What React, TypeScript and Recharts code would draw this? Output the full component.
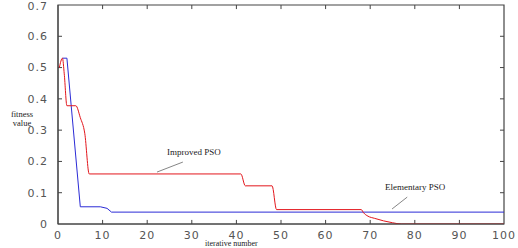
import { LineChart, Line, XAxis, YAxis, ReferenceLine, ReferenceArea } from "recharts"

// iteration / fitness pairs
const improvedIter = [0.3, 1, 1.4, 2, 4, 5, 6, 7, 41, 42, 48, 49, 68, 68.5, 69.5, 71, 73, 75, 77, 100]
const improvedFit = [0.5, 0.53, 0.48, 0.378, 0.378, 0.34, 0.29, 0.16, 0.16, 0.122, 0.122, 0.046, 0.046, 0.036, 0.025, 0.018, 0.01, 0.004, 0, 0]

const elementaryIter = [1, 2, 5, 9.5, 11, 12, 100]
const elementaryFit = [0.53, 0.53, 0.055, 0.055, 0.05, 0.038, 0.038]

const xTicks = [0, 10, 20, 30, 40, 50, 60, 70, 80, 90, 100]
const yTicks = [0, 0.1, 0.2, 0.3, 0.4, 0.5, 0.6, 0.7]

const improved = improvedIter.map((x, i) => ({ x, y: improvedFit[i] }))
const elementary = elementaryIter.map((x, i) => ({ x, y: elementaryFit[i] }))

const tickStyle = { fontSize: 11, fill: "#555", fontFamily: "DejaVu Sans", letterSpacing: 1 }
const serif = { fontFamily: "Liberation Serif", color: "#222", position: "absolute" as const, whiteSpace: "nowrap" as const }
const frame = "#444"

// inward tick length, in data units (about 4px)
const dy = 0.013
const dx = 0.9

export default function App() {
  return (
    <div style={{ position: "absolute", left: 0, top: 0, width: 518, height: 248, background: "#fff" }}>
      <LineChart width={518} height={248} margin={{ top: 5, right: 14, left: 0, bottom: 0 }}>
        <XAxis
          type="number"
          dataKey="x"
          domain={[0, 100]}
          ticks={xTicks}
          height={24}
          stroke={frame}
          tickLine={false}
          tickMargin={1}
          tick={tickStyle}
          allowDataOverflow
        />
        <YAxis
          type="number"
          dataKey="y"
          domain={[0, 0.7]}
          ticks={yTicks}
          width={58}
          stroke={frame}
          tickLine={false}
          tickMargin={4}
          tick={tickStyle}
          allowDataOverflow
        />
        {/* box around the plot */}
        <ReferenceArea x1={0} x2={100} y1={0} y2={0.7} ifOverflow="visible" fill="none" fillOpacity={0} stroke={frame} strokeWidth={1.2} />
        {xTicks.slice(1, -1).map((v) => (
          <ReferenceLine key={"b" + v} ifOverflow="visible" segment={[{ x: v, y: 0 }, { x: v, y: dy }]} stroke={frame} />
        ))}
        {xTicks.slice(1, -1).map((v) => (
          <ReferenceLine key={"t" + v} ifOverflow="visible" segment={[{ x: v, y: 0.7 }, { x: v, y: 0.7 - dy }]} stroke={frame} />
        ))}
        {yTicks.slice(1, -1).map((v) => (
          <ReferenceLine key={"l" + v} ifOverflow="visible" segment={[{ x: 0, y: v }, { x: dx, y: v }]} stroke={frame} />
        ))}
        {yTicks.slice(1, -1).map((v) => (
          <ReferenceLine key={"r" + v} ifOverflow="visible" segment={[{ x: 100, y: v }, { x: 100 - dx, y: v }]} stroke={frame} />
        ))}
        <Line data={elementary} dataKey="y" type="linear" stroke="#2b2bd6" strokeWidth={1} dot={false} isAnimationActive={false} />
        <Line data={improved} dataKey="y" type="monotone" stroke="#e3161c" strokeWidth={1} dot={false} isAnimationActive={false} />
        <ReferenceLine segment={[{ x: 22.2, y: 0.166 }, { x: 28, y: 0.198 }]} stroke="#666" strokeWidth={0.8} />
        <ReferenceLine segment={[{ x: 74.9, y: 0.048 }, { x: 78.3, y: 0.086 }]} stroke="#666" strokeWidth={0.8} />
      </LineChart>
      <div style={{ ...serif, left: 167, top: 147, fontSize: 9 }}>Improved PSO</div>
      <div style={{ ...serif, left: 385, top: 182, fontSize: 9 }}>Elementary PSO</div>
      <div style={{ ...serif, left: 4, top: 110, fontSize: 8.5, lineHeight: "9px", textAlign: "center", width: 36 }}>
        fitness
        <br />
        value
      </div>
      <div style={{ ...serif, left: 205, top: 239, fontSize: 8, lineHeight: "9px" }}>iterative number</div>
    </div>
  )
}
